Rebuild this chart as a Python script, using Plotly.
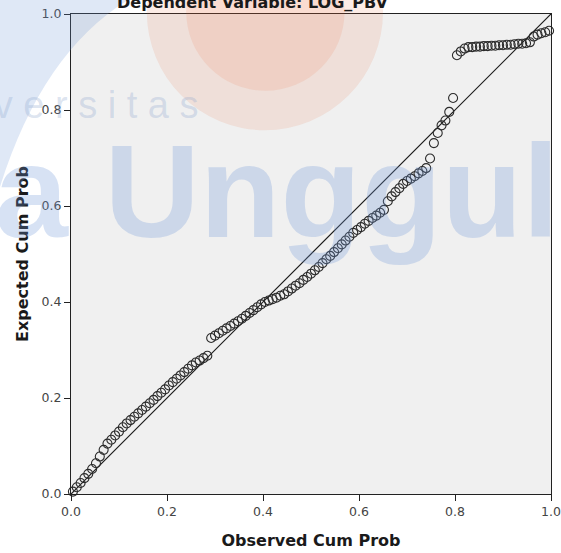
import plotly.graph_objects as go

# Observed cumulative probability (x) and expected cumulative probability (y)
observed_cum_prob = [
    0.004, 0.012, 0.020, 0.028, 0.036, 0.044, 0.052, 0.060, 0.068, 0.076,
    0.084, 0.092, 0.100, 0.108, 0.116, 0.124, 0.132, 0.140, 0.148, 0.156,
    0.164, 0.172, 0.180, 0.188, 0.196, 0.204, 0.212, 0.220, 0.228, 0.236,
    0.244, 0.252, 0.260, 0.268, 0.276, 0.284, 0.292, 0.300, 0.308, 0.316,
    0.324, 0.332, 0.340, 0.348, 0.356, 0.364, 0.372, 0.380, 0.388, 0.396,
    0.404, 0.412, 0.420, 0.428, 0.436, 0.444, 0.452, 0.460, 0.468, 0.476,
    0.484, 0.492, 0.500, 0.508, 0.516, 0.524, 0.532, 0.540, 0.548, 0.556,
    0.564, 0.572, 0.580, 0.588, 0.596, 0.604, 0.612, 0.620, 0.628, 0.636,
    0.644, 0.652, 0.660, 0.668, 0.676, 0.684, 0.692, 0.700, 0.708, 0.716,
    0.724, 0.732, 0.740, 0.748, 0.756, 0.764, 0.772, 0.780, 0.788, 0.796,
    0.804, 0.812, 0.820, 0.828, 0.836, 0.844, 0.852, 0.860, 0.868, 0.876,
    0.884, 0.892, 0.900, 0.908, 0.916, 0.924, 0.932, 0.940, 0.948, 0.956,
    0.964, 0.972, 0.980, 0.988, 0.996,
]
expected_cum_prob = [
    0.005, 0.014, 0.023, 0.033, 0.042, 0.052, 0.064, 0.078, 0.092, 0.105,
    0.113, 0.122, 0.130, 0.139, 0.147, 0.154, 0.161, 0.168, 0.175, 0.182,
    0.189, 0.196, 0.204, 0.211, 0.218, 0.226, 0.233, 0.240, 0.247, 0.254,
    0.261, 0.268, 0.274, 0.278, 0.283, 0.288, 0.325, 0.330, 0.335, 0.340,
    0.345, 0.350, 0.355, 0.360, 0.365, 0.371, 0.377, 0.383, 0.389, 0.395,
    0.400, 0.403, 0.406, 0.409, 0.413, 0.416, 0.422, 0.428, 0.434, 0.439,
    0.446, 0.452, 0.459, 0.466, 0.473, 0.481, 0.489, 0.496, 0.504, 0.512,
    0.520, 0.528, 0.536, 0.544, 0.550, 0.556, 0.563, 0.569, 0.575, 0.580,
    0.586, 0.592, 0.610, 0.620, 0.629, 0.637, 0.646, 0.652, 0.657, 0.662,
    0.668, 0.673, 0.679, 0.699, 0.731, 0.752, 0.768, 0.778, 0.796, 0.825,
    0.914, 0.922, 0.928, 0.931, 0.931, 0.932, 0.932, 0.933, 0.933, 0.934,
    0.934, 0.935, 0.935, 0.936, 0.936, 0.937, 0.938, 0.938, 0.939, 0.941,
    0.953, 0.957, 0.960, 0.962, 0.965,
]

reference_line_x = [0.0, 1.0]
reference_line_y = [0.0, 1.0]

tick_values = [0.0, 0.2, 0.4, 0.6, 0.8, 1.0]
tick_labels = ["0.0", "0.2", "0.4", "0.6", "0.8", "1.0"]

title_text = "Dependent Variable: LOG_PBV"
x_title = "Observed Cum Prob"
y_title = "Expected Cum Prob"

FONT = "DejaVu Sans, Verdana, sans-serif"

fig = go.Figure()

fig.add_trace(go.Scatter(
    x=reference_line_x, y=reference_line_y, mode="lines",
    line=dict(color="#1a1a1a", width=1.2), hoverinfo="skip", showlegend=False,
))

fig.add_trace(go.Scatter(
    x=observed_cum_prob, y=expected_cum_prob, mode="markers",
    marker=dict(symbol="circle-open", size=9, color="#2b2b2b", line=dict(width=1.1)),
    cliponaxis=False, showlegend=False,
))

axis_common = dict(
    range=[0, 1], tickvals=tick_values, ticktext=tick_labels,
    showgrid=False, zeroline=False, showline=True, linecolor="#222222",
    linewidth=1, mirror=True, ticks="outside", ticklen=6, tickcolor="#222222",
    tickfont=dict(family=FONT, size=12.5, color="#444444"),
    automargin=False,
)

fig.update_layout(
    width=561, height=553,
    margin=dict(l=71, r=10, t=14, b=59),
    paper_bgcolor="white", plot_bgcolor="#f0f0f0",
    xaxis=dict(**axis_common,
               title=dict(text=f"<b>{x_title}</b>", standoff=16,
                          font=dict(family=FONT, size=16, color="#1a1a1a"))),
    yaxis=dict(**axis_common,
               title=dict(text=f"<b>{y_title}</b>", standoff=9,
                          font=dict(family=FONT, size=16, color="#1a1a1a"))),
)

# Title (partly cut off at top in the reference)
fig.add_annotation(
    text=f"<b>{title_text}</b>", xref="paper", yref="paper",
    x=0.379, y=1.023, xanchor="center", yanchor="middle", showarrow=False,
    font=dict(family=FONT, size=16, color="#1a1a1a"),
)

# Watermark (faint logo overlay)
fig.add_shape(
    type="path", xref="paper", yref="paper",
    path="M -0.148 1.03 L 0.12 1.03 Q -0.06 0.92 -0.148 0.64 Z",
    fillcolor="rgba(110,150,215,0.22)", line=dict(width=0), layer="above",
)
fig.add_shape(
    type="circle", xref="paper", yref="paper",
    x0=0.158, x1=0.650, y0=0.758, y1=1.25,
    fillcolor="rgba(235,110,60,0.13)", line=dict(width=0), layer="above",
)
fig.add_shape(
    type="circle", xref="paper", yref="paper",
    x0=0.240, x1=0.570, y0=0.840, y1=1.17,
    fillcolor="rgba(235,110,60,0.12)", line=dict(width=0), layer="above",
)
fig.add_annotation(
    text="<b>Esa Unggul</b>", xref="paper", yref="paper",
    x=1.02, y=0.631, xanchor="right", yanchor="middle", showarrow=False,
    font=dict(family="Liberation Sans, Arial, sans-serif", size=132, color="rgba(110,150,215,0.28)"),
)
fig.add_annotation(
    text="U n i v e r s i t a s", xref="paper", yref="paper",
    x=0.27, y=0.81, xanchor="right", yanchor="middle", showarrow=False,
    font=dict(family="Liberation Sans, Arial, sans-serif", size=38, color="rgba(140,165,205,0.3)"),
)

fig.write_html(
    "out.html",
    config={"displayModeBar": False},
    post_script="document.body.style.margin='0';document.body.style.overflow='hidden';",
)
